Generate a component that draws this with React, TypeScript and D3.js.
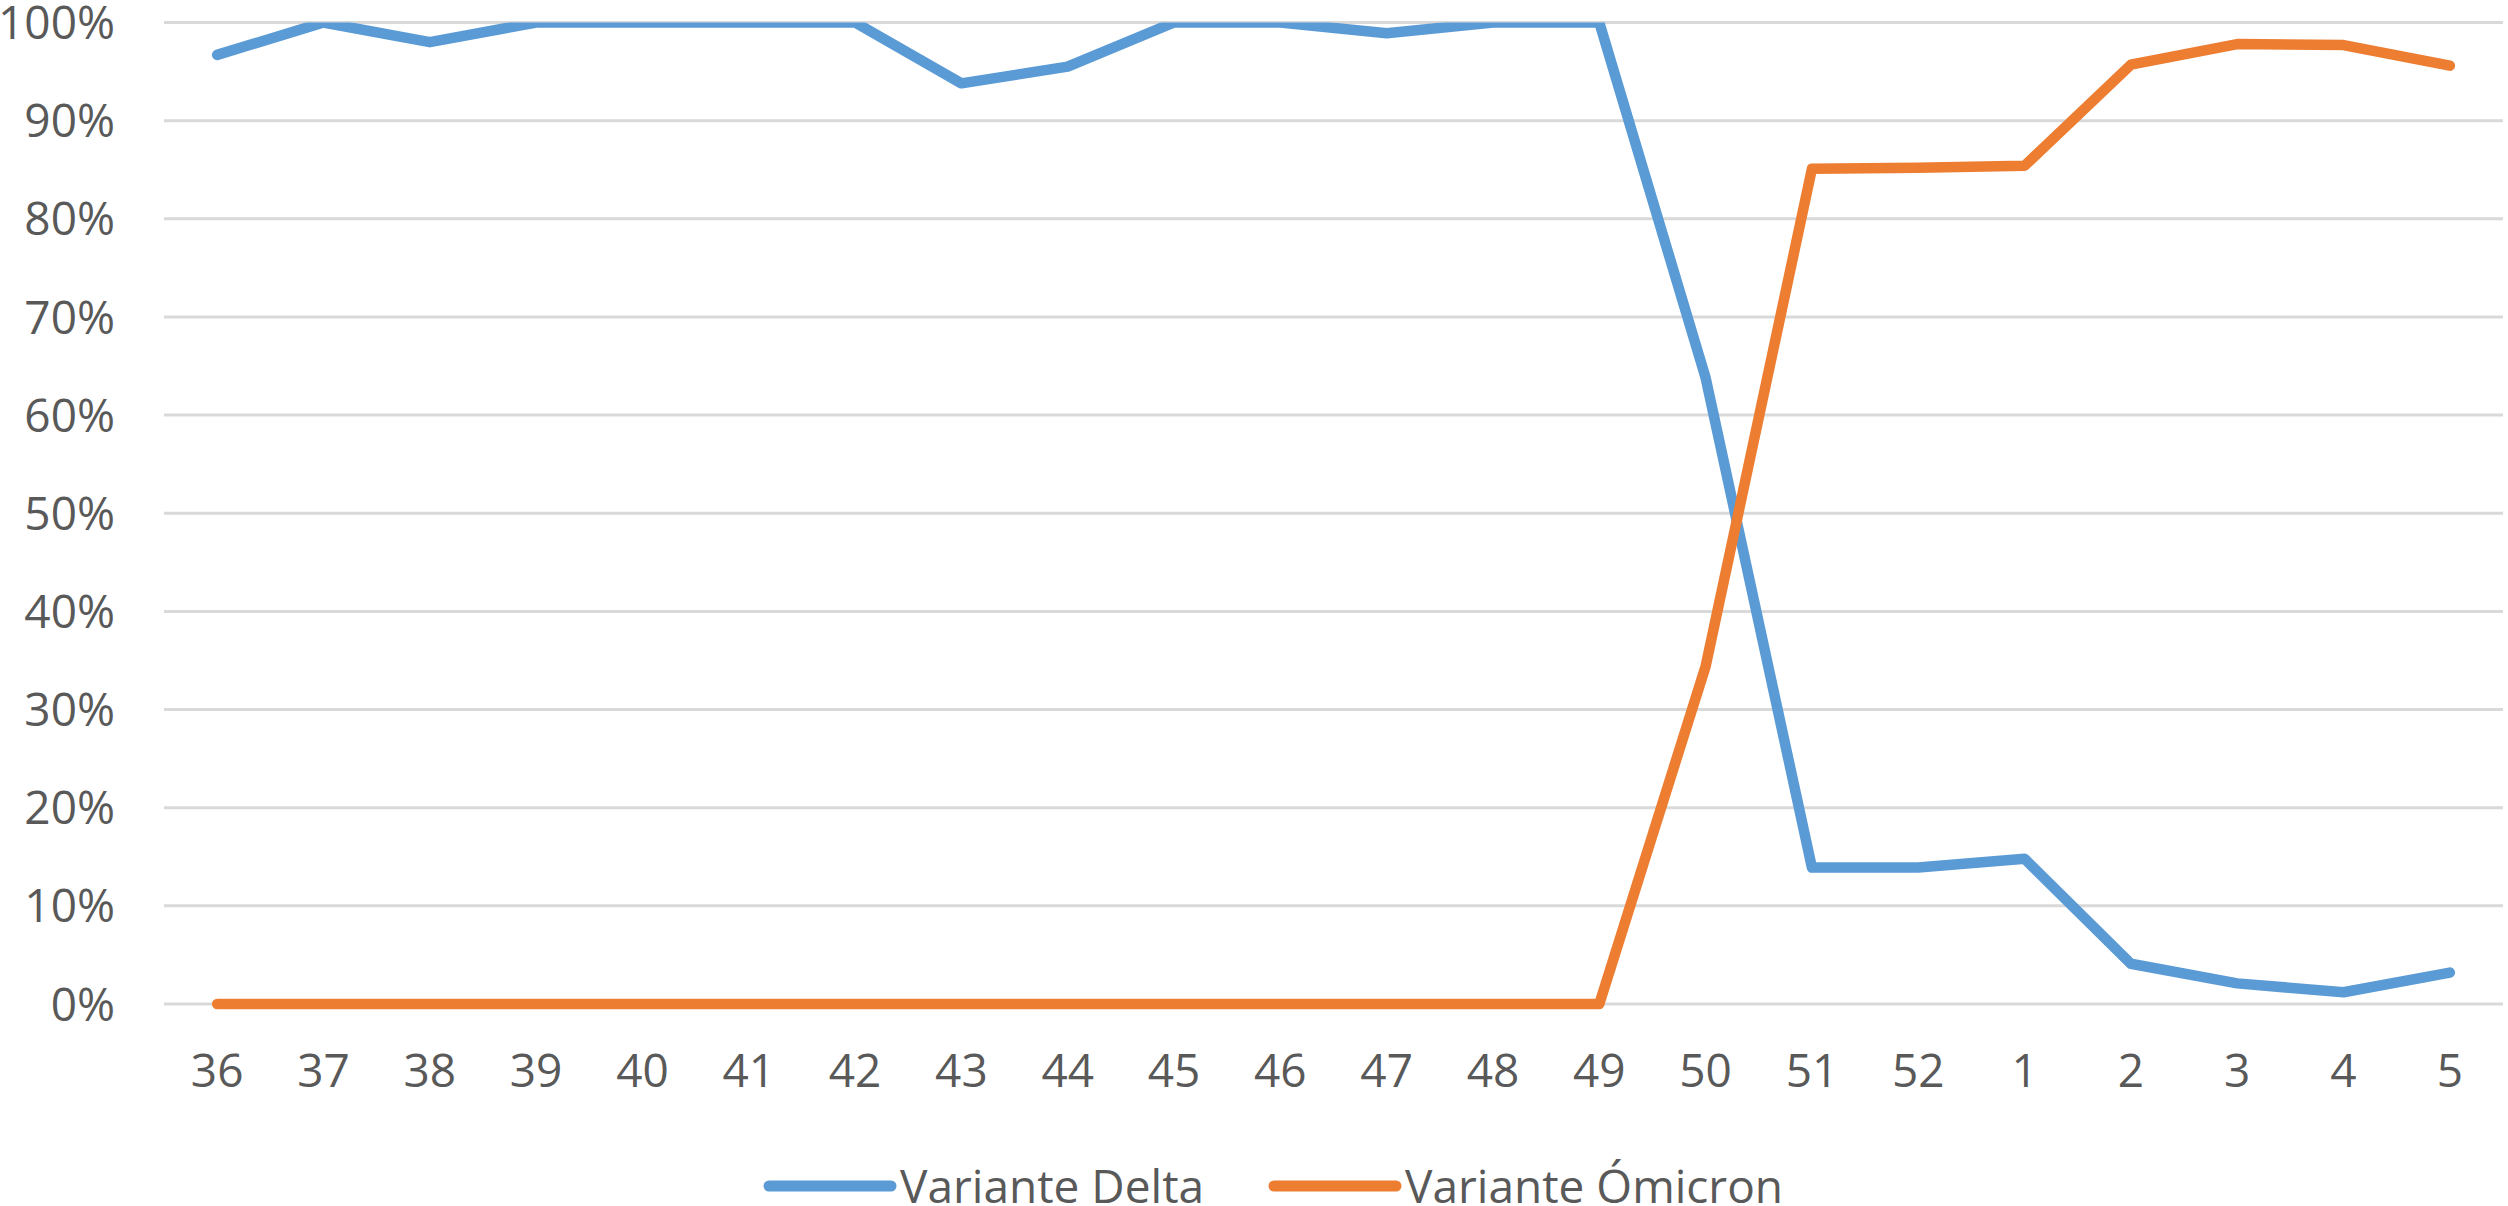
import { useEffect, useRef } from "react";
import * as d3 from "d3";

// weeks (epidemiological weeks 36 of 2021 to 5 of 2022)
const weeks = ["36", "37", "38", "39", "40", "41", "42", "43", "44", "45", "46", "47", "48", "49", "50", "51", "52", "1", "2", "3", "4", "5"];

// share of sequenced samples, in %
const delta = [96.7, 100, 98.0, 100, 100, 100, 100, 93.8, 95.5, 100, 100, 98.9, 100, 100, 63.8, 13.9, 13.9, 14.8, 4.1, 2.1, 1.2, 3.2];
const omicron = [0, 0, 0, 0, 0, 0, 0, 0, 0, 0, 0, 0, 0, 0, 34.4, 85.1, 85.2, 85.4, 95.7, 97.8, 97.7, 95.6];

const yTicks = [0, 10, 20, 30, 40, 50, 60, 70, 80, 90, 100];

const seriesNames = ["Variante Delta", "Variante Ómicron"];
const seriesColors = ["#5B9BD5", "#ED7D31"];

function Chart() {
  const ref = useRef<HTMLDivElement>(null);

  useEffect(() => {
    const width = 2508;
    const height = 1206;
    const margin = { top: 22.5, right: 5, bottom: 202, left: 164 };
    const font = "'Open Sans', sans-serif";
    const textColor = "#595959";

    const svg = d3
      .select(ref.current)
      .append("svg")
      .attr("width", width)
      .attr("height", height)
      .style("position", "absolute")
      .style("left", 0)
      .style("top", 0)
      .style("background", "#FFFFFF");

    const x = d3
      .scaleBand()
      .domain(weeks)
      .range([margin.left, width - margin.right]);

    const y = d3
      .scaleLinear()
      .domain([0, 100])
      .range([height - margin.bottom, margin.top]);

    // clip lines to the plot area, like the original
    svg
      .append("defs")
      .append("clipPath")
      .attr("id", "plot-clip")
      .append("rect")
      .attr("x", margin.left)
      .attr("y", y(100))
      .attr("width", width - margin.right - margin.left)
      .attr("height", y(0) - y(100) + 20);

    // gridlines
    svg
      .selectAll("line.grid")
      .data(yTicks)
      .enter()
      .append("line")
      .attr("class", "grid")
      .attr("x1", margin.left)
      .attr("x2", width - margin.right)
      .attr("y1", (d) => y(d))
      .attr("y2", (d) => y(d))
      .attr("stroke", "#D9D9D9")
      .attr("stroke-width", 3);

    // y labels
    svg
      .selectAll("text.ylabel")
      .data(yTicks)
      .enter()
      .append("text")
      .attr("class", "ylabel")
      .attr("x", 115)
      .attr("y", (d) => y(d))
      .attr("dy", "0.36em")
      .attr("text-anchor", "end")
      .attr("font-family", font)
      .attr("font-size", 46)
      .attr("fill", textColor)
      .text((d) => d + "%");

    // x labels
    svg
      .selectAll("text.xlabel")
      .data(weeks)
      .enter()
      .append("text")
      .attr("class", "xlabel")
      .attr("x", (d) => x(d)! + x.bandwidth() / 2)
      .attr("y", 1087)
      .attr("text-anchor", "middle")
      .attr("font-family", font)
      .attr("font-size", 46)
      .attr("fill", textColor)
      .text((d) => d);

    const line = d3
      .line<number>()
      .x((d, i) => x(weeks[i])! + x.bandwidth() / 2)
      .y((d) => y(d));

    const plot = svg.append("g").attr("clip-path", "url(#plot-clip)");

    [delta, omicron].forEach((values, i) => {
      plot
        .append("path")
        .attr("d", line(values))
        .attr("fill", "none")
        .attr("stroke", seriesColors[i])
        .attr("stroke-width", 10.5)
        .attr("stroke-linejoin", "round")
        .attr("stroke-linecap", "round");
    });

    // legend
    const legendX = [769, 1274];
    const legend = svg
      .selectAll("g.legend")
      .data(seriesNames)
      .enter()
      .append("g")
      .attr("class", "legend")
      .attr("transform", (d, i) => `translate(${legendX[i]},1186)`);

    legend
      .append("line")
      .attr("x1", 0)
      .attr("x2", 122)
      .attr("stroke", (d, i) => seriesColors[i])
      .attr("stroke-width", 11)
      .attr("stroke-linecap", "round");

    legend
      .append("text")
      .attr("x", 131)
      .attr("y", 17)
      .attr("font-family", font)
      .attr("font-size", 46)
      .attr("fill", textColor)
      .text((d) => d);

    return () => {
      d3.select(ref.current).select("svg").remove();
    };
  }, []);

  return <div ref={ref}></div>;
}

export default function App() {
  return <Chart />;
}
